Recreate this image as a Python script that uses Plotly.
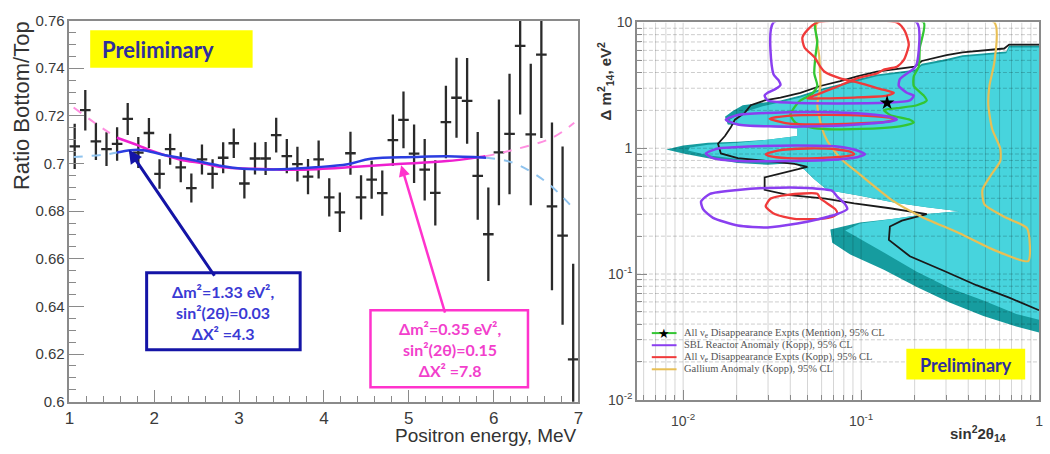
import math
import plotly.graph_objects as go

W, H = 1050, 454

# ---------------- left panel data ----------------
energy_mev = [1.0625, 1.1875, 1.3125, 1.4375, 1.5625, 1.6875, 1.8125, 1.9375,
              2.0625, 2.1875, 2.3125, 2.4375, 2.5625, 2.6875, 2.8125, 2.9375,
              3.0625, 3.1875, 3.3125, 3.4375, 3.5625, 3.6875, 3.8125, 3.9375,
              4.0625, 4.1875, 4.3125, 4.4375, 4.5625, 4.6875, 4.8125, 4.9375,
              5.0625, 5.1875, 5.3125, 5.4375, 5.5625, 5.6875, 5.8125, 5.9375,
              6.0625, 6.1875, 6.3125, 6.4375, 6.5625, 6.6875, 6.8125, 6.9375]
ratio = [0.7072, 0.7224, 0.7093, 0.7060, 0.7082, 0.7187, 0.7046, 0.7128,
         0.6956, 0.7060, 0.6984, 0.6897, 0.7017, 0.6956, 0.7024, 0.7085,
         0.6916, 0.7021, 0.7021, 0.7119, 0.7031, 0.6997, 0.6945, 0.7017,
         0.6858, 0.6795, 0.7043, 0.6858, 0.6932, 0.6876, 0.7098, 0.7183,
         0.7041, 0.6974, 0.6877, 0.7174, 0.7276, 0.7263, 0.6948, 0.6703,
         0.7047, 0.7124, 0.7494, 0.7122, 0.7457, 0.6820, 0.6697, 0.6178]
ratio_err = [0.0095, 0.0085, 0.0078, 0.0071, 0.0070, 0.0067, 0.0065, 0.0063,
             0.0062, 0.0065, 0.0063, 0.0061, 0.0063, 0.0062, 0.0065, 0.0062,
             0.0063, 0.0067, 0.0069, 0.0073, 0.0072, 0.0073, 0.0074, 0.0080,
             0.0080, 0.0083, 0.0090, 0.0093, 0.0080, 0.0095, 0.0108, 0.0119,
             0.0123, 0.0129, 0.0137, 0.0152, 0.0168, 0.0180, 0.0184, 0.0196,
             0.0222, 0.0253, 0.0288, 0.0297, 0.0350, 0.0352, 0.0374, 0.0401]
bin_half_width = [0.0625] * len(energy_mev)

# fit curves
pink_lo_E = [1.05, 1.30, 1.56]
pink_lo_V = [0.7235, 0.7170, 0.7108]
magenta_E = [1.56, 1.81, 1.95, 2.30, 2.58, 2.81, 3.16, 3.50, 3.74, 4.28, 4.83, 5.45, 5.84, 5.90]
magenta_V = [0.7108, 0.7076, 0.7056, 0.7017, 0.7000, 0.6984, 0.6978, 0.6974, 0.6974, 0.6984, 0.6997, 0.7010, 0.7027, 0.7030]
pink_hi_E = [5.90, 6.22, 6.69, 6.95]
pink_hi_V = [0.7030, 0.7056, 0.7108, 0.7171]

lblue_lo_E = [1.05, 1.41, 1.56]
lblue_lo_V = [0.7027, 0.7037, 0.7046]
blue_E = [1.56, 1.72, 1.87, 2.10, 2.42, 2.77, 3.04, 3.50, 3.90, 4.28, 4.55, 5.06, 5.45, 5.91]
blue_V = [0.7046, 0.7056, 0.7056, 0.7037, 0.7017, 0.6991, 0.6978, 0.6976, 0.6984, 0.6997, 0.7020, 0.7027, 0.7030, 0.7024]
lblue_hi_E = [5.91, 6.22, 6.61, 6.95]
lblue_hi_V = [0.7024, 0.7004, 0.6925, 0.6808]

y_ticks = [0.60, 0.62, 0.64, 0.66, 0.68, 0.70, 0.72, 0.74, 0.76]
y_tick_text = ["0.6", "0.62", "0.64", "0.66", "0.68", "0.7", "0.72", "0.74", "0.76"]
x_ticks = [1, 2, 3, 4, 5, 6, 7]

# ---------------- right panel data: (log10 sin^2 2theta, log10 dm^2) ----------------
teal_region = [(0.0, 0.816), (-0.168, 0.816), (-0.184, 0.770), (-0.430, 0.740), (-0.520, 0.709),
               (-0.659, 0.671), (-0.698, 0.625), (-0.911, 0.587), (-1.022, 0.549), (-1.117, 0.510),
               (-1.229, 0.472), (-1.341, 0.419), (-1.453, 0.380), (-1.581, 0.357), (-1.665, 0.342),
               (-1.721, 0.296), (-1.765, 0.250), (-1.749, 0.189), (-1.581, 0.174), (-1.358, 0.158),
               (-1.358, 0.097), (-1.525, 0.067), (-1.693, 0.051), (-1.860, 0.044), (-2.0, 0.021),
               (-2.095, -0.010), (-2.0, -0.041), (-1.860, -0.079), (-1.693, -0.117), (-1.525, -0.132),
               (-1.369, -0.117), (-1.318, -0.171), (-1.263, -0.247), (-1.190, -0.331), (-1.006, -0.377),
               (-0.816, -0.431), (-0.631, -0.469), (-0.447, -0.500), (-0.631, -0.523), (-0.816, -0.561),
               (-1.006, -0.591), (-1.173, -0.645), (-1.162, -0.752), (-1.061, -0.844), (-0.872, -0.966),
               (-0.687, -1.104), (-0.503, -1.226), (-0.313, -1.334), (-0.128, -1.418), (0.0, -1.464)]
cyan_region = [(0.0, 0.801), (-0.168, 0.801), (-0.184, 0.755), (-0.430, 0.725), (-0.520, 0.694),
               (-0.659, 0.656), (-0.698, 0.610), (-0.911, 0.572), (-1.022, 0.533), (-1.117, 0.495),
               (-1.229, 0.457), (-1.341, 0.403), (-1.453, 0.365), (-1.553, 0.334), (-1.637, 0.296),
               (-1.693, 0.265), (-1.737, 0.227), (-1.721, 0.189), (-1.581, 0.174), (-1.358, 0.158),
               (-1.358, 0.097), (-1.525, 0.067), (-1.693, 0.044), (-1.860, 0.028), (-1.961, 0.005),
               (-1.972, -0.018), (-1.860, -0.056), (-1.693, -0.086), (-1.525, -0.109), (-1.369, -0.117),
               (-1.318, -0.171), (-1.263, -0.247), (-1.190, -0.331), (-1.006, -0.377), (-0.816, -0.431),
               (-0.631, -0.469), (-0.447, -0.500), (-0.631, -0.523), (-0.816, -0.561), (-1.006, -0.599),
               (-1.089, -0.653), (-1.011, -0.714), (-0.872, -0.829), (-0.687, -0.982), (-0.503, -1.112),
               (-0.313, -1.211), (-0.128, -1.318), (0.0, -1.364)]
black_contour = [(0.0, 0.824), (-0.168, 0.824), (-0.196, 0.793), (-0.430, 0.763), (-0.520, 0.740),
                 (-0.659, 0.694), (-0.698, 0.648), (-0.911, 0.610), (-1.022, 0.572), (-1.117, 0.533),
                 (-1.229, 0.495), (-1.341, 0.441), (-1.453, 0.403), (-1.542, 0.380), (-1.620, 0.342),
                 (-1.654, 0.281), (-1.709, 0.227), (-1.732, 0.166), (-1.765, 0.097), (-1.804, 0.036),
                 (-1.788, -0.041), (-1.693, -0.079), (-1.525, -0.102), (-1.374, -0.125), (-1.302, -0.148),
                 (-1.385, -0.178), (-1.486, -0.209), (-1.542, -0.232), (-1.542, -0.331), (-1.413, -0.370),
                 (-1.201, -0.400), (-1.039, -0.438), (-0.838, -0.477), (-0.631, -0.523), (-0.771, -0.576),
                 (-0.838, -0.622), (-0.844, -0.729), (-0.726, -0.859), (-0.536, -0.974), (-0.352, -1.089),
                 (-0.168, -1.188), (0.0, -1.288)]

purple_islands = [
    [(-1.492, 1.0), (-1.492, 0.587), (-1.464, 0.541), (-1.453, 0.503), (-1.480, 0.472), (-1.525, 0.441),
     (-1.542, 0.419), (-1.525, 0.380), (-0.726, 0.380), (-0.704, 0.419), (-0.743, 0.441), (-0.788, 0.495),
     (-0.782, 0.549), (-0.704, 0.633), (-0.687, 0.671), (-0.687, 1.0)],
    [(-1.760, 0.227), (-1.693, 0.265), (-1.525, 0.281), (-1.246, 0.288), (-0.966, 0.273), (-0.838, 0.250),
     (-0.799, 0.227), (-0.838, 0.212), (-1.022, 0.189), (-1.246, 0.174), (-1.525, 0.174), (-1.693, 0.189)],
    [(-1.872, -0.041), (-1.804, -0.002), (-1.637, 0.013), (-1.358, 0.021), (-1.134, 0.013), (-1.022, -0.018),
     (-0.978, -0.048), (-1.022, -0.071), (-1.190, -0.094), (-1.413, -0.102), (-1.693, -0.102), (-1.832, -0.079)],
    [(-1.899, -0.423), (-1.849, -0.362), (-1.693, -0.331), (-1.525, -0.316), (-1.302, -0.316), (-1.162, -0.339),
     (-1.134, -0.385), (-1.089, -0.446), (-1.078, -0.484), (-1.134, -0.523), (-1.229, -0.561), (-1.358, -0.599),
     (-1.525, -0.630), (-1.693, -0.614), (-1.832, -0.553), (-1.888, -0.484)],
]
red_islands = [
    [(-1.246, 1.0), (-1.302, 0.939), (-1.330, 0.878), (-1.318, 0.801), (-1.263, 0.725), (-1.229, 0.648),
     (-1.207, 0.610), (-1.117, 0.556), (-1.006, 0.518), (-0.894, 0.472), (-0.816, 0.441), (-0.855, 0.419),
     (-1.039, 0.403), (-1.229, 0.396), (-1.302, 0.396), (-1.263, 0.419), (-1.151, 0.480), (-1.022, 0.556),
     (-0.911, 0.594), (-0.872, 0.625), (-0.799, 0.648), (-0.760, 0.702), (-0.732, 0.824), (-0.754, 0.931),
     (-0.799, 1.0)],
    [(-1.514, 0.235), (-1.413, 0.258), (-1.190, 0.265), (-0.966, 0.258), (-0.838, 0.243), (-0.810, 0.227),
     (-0.855, 0.212), (-1.022, 0.197), (-1.246, 0.189), (-1.413, 0.197)],
    [(-1.536, -0.048), (-1.469, -0.018), (-1.302, -0.002), (-1.134, -0.010), (-1.050, -0.033), (-1.039, -0.048),
     (-1.078, -0.063), (-1.246, -0.079), (-1.413, -0.079), (-1.514, -0.063)],
    [(-1.536, -0.461), (-1.508, -0.400), (-1.413, -0.370), (-1.246, -0.362), (-1.229, -0.400), (-1.145, -0.484),
     (-1.134, -0.515), (-1.151, -0.538), (-1.229, -0.561), (-1.374, -0.561), (-1.486, -0.523)],
]
green_contour = [(-1.257, 1.0), (-1.246, 0.855), (-1.257, 0.725), (-1.263, 0.594), (-1.246, 0.495),
                 (-1.274, 0.434), (-1.341, 0.380), (-1.374, 0.327), (-1.397, 0.265), (-1.369, 0.204),
                 (-1.285, 0.166), (-1.190, 0.151), (-0.911, 0.158), (-0.782, 0.174), (-0.704, 0.204),
                 (-0.726, 0.227), (-0.838, 0.265), (-0.872, 0.304), (-0.799, 0.319), (-0.687, 0.342),
                 (-0.631, 0.380), (-0.648, 0.419), (-0.704, 0.495), (-0.704, 0.572), (-0.676, 0.648),
                 (-0.670, 0.801), (-0.648, 1.0)]
orange_contour = [(-1.246, 1.0), (-1.235, 0.725), (-1.229, 0.495), (-1.246, 0.342), (-1.218, 0.151),
                  (-1.190, 0.059), (-1.117, -0.079), (-1.006, -0.209), (-0.816, -0.423), (-0.670, -0.538),
                  (-0.447, -0.676), (-0.257, -0.806), (-0.061, -0.897), (-0.067, -0.637), (-0.184, -0.553),
                  (-0.307, -0.446), (-0.318, -0.331), (-0.268, -0.209), (-0.218, -0.102), (-0.218, -0.002),
                  (-0.263, 0.151), (-0.285, 0.342), (-0.279, 0.495), (-0.251, 0.686), (-0.251, 1.0)]
best_fit_s2t = [0.14]
best_fit_dm2 = [2.3]

grid_x_vals = [0.006, 0.007, 0.008, 0.009, 0.01, 0.02, 0.03, 0.04, 0.05, 0.06, 0.07, 0.08, 0.09,
               0.1, 0.2, 0.3, 0.4, 0.5, 0.6, 0.7, 0.8, 0.9]
grid_y_vals = [0.02, 0.03, 0.04, 0.05, 0.06, 0.07, 0.08, 0.09, 0.1, 0.2, 0.3, 0.4, 0.5, 0.6, 0.7,
               0.8, 0.9, 1, 2, 3, 4, 5, 6, 7, 8, 9]
x2_range = (0.0055, 1.0)
y2_range = (0.01, 10.0)

legend_entries = [
    ("All ν<sub>e</sub> Disappearance Expts (Mention), 95% CL", "#33c633"),
    ("SBL Reactor Anomaly (Kopp), 95% CL", "#8a3ff0"),
    ("All ν<sub>e</sub> Disappearance Expts (Kopp), 95% CL", "#f03a3a"),
    ("Gallium Anomaly (Kopp), 95% CL", "#e8bf55"),
]

# ---------------- helpers ----------------
def px(x):
    return x / W

def py(y):
    return 1 - y / H

def poly_xy(points, close=True):
    xs = [10 ** a for a, b in points]
    ys = [10 ** b for a, b in points]
    if close:
        xs.append(xs[0])
        ys.append(ys[0])
    return xs, ys

def multi_poly(islands):
    xs, ys = [], []
    for isl in islands:
        a, b = poly_xy(isl)
        xs += a + [None]
        ys += b + [None]
    return xs, ys

def note(x, y, text, font, xanchor="center", yanchor="middle", **kw):
    d = dict(xref="paper", yref="paper", x=px(x), y=py(y), text=text, showarrow=False,
             xanchor=xanchor, yanchor=yanchor, font=font)
    d.update(kw)
    return d

fig = go.Figure()

# ---------------- left panel traces ----------------
def curve(E, V, color, width, dash):
    fig.add_trace(go.Scatter(x=E, y=V, mode="lines", line=dict(color=color, width=width, dash=dash,
                                                                 shape="spline"),
                             xaxis="x", yaxis="y", hoverinfo="skip"))

fig.add_trace(go.Scatter(
    x=energy_mev, y=ratio, mode="markers",
    marker=dict(size=1, color="#2a2a2a"),
    error_y=dict(type="data", array=ratio_err, width=0, thickness=2.3, color="#2a2a2a"),
    error_x=dict(type="data", array=bin_half_width, width=0, thickness=2.3, color="#2a2a2a"),
    xaxis="x", yaxis="y", hoverinfo="skip"))

curve(pink_lo_E, pink_lo_V, "#ff8fe0", 2, "dash")
curve(pink_hi_E, pink_hi_V, "#ff8fe0", 2, "dash")
curve(lblue_lo_E, lblue_lo_V, "#8fc3ee", 2, "dash")
curve(lblue_hi_E, lblue_hi_V, "#8fc3ee", 2, "dash")
curve(magenta_E, magenta_V, "#ee1fcf", 2.5, "solid")
curve(blue_E, blue_V, "#2b3de0", 2.5, "solid")

# ---------------- right panel traces ----------------
tx, ty = poly_xy(teal_region)
fig.add_trace(go.Scatter(x=tx, y=ty, mode="lines", fill="toself", fillcolor="#169c9f",
                         line=dict(width=0, color="#169c9f"), xaxis="x2", yaxis="y2", hoverinfo="skip"))
cx, cy = poly_xy(cyan_region)
fig.add_trace(go.Scatter(x=cx, y=cy, mode="lines", fill="toself", fillcolor="#47d4dd",
                         line=dict(width=0, color="#47d4dd"), xaxis="x2", yaxis="y2", hoverinfo="skip"))

# grid drawn above the filled regions
gvx, gvy = [], []
for v in grid_x_vals:
    gvx += [v, v, None]
    gvy += [y2_range[0], y2_range[1], None]
fig.add_trace(go.Scatter(x=gvx, y=gvy, mode="lines", line=dict(color="rgba(0,0,0,0.17)", width=1),
                         xaxis="x2", yaxis="y2", hoverinfo="skip"))
ghx, ghy = [], []
for v in grid_y_vals:
    ghx += [x2_range[0], x2_range[1], None]
    ghy += [v, v, None]
fig.add_trace(go.Scatter(x=ghx, y=ghy, mode="lines",
                         line=dict(color="rgba(0,0,0,0.2)", width=1, dash="4px,2px"),
                         xaxis="x2", yaxis="y2", hoverinfo="skip"))

bx, by = poly_xy(black_contour, close=False)
fig.add_trace(go.Scatter(x=bx, y=by, mode="lines", line=dict(color="#1a1a1a", width=1.8),
                         xaxis="x2", yaxis="y2", hoverinfo="skip"))
ox, oy = poly_xy(orange_contour)
fig.add_trace(go.Scatter(x=ox, y=oy, mode="lines", line=dict(color="#e8bf55", width=2.2, shape="spline", smoothing=0.6),
                         xaxis="x2", yaxis="y2", hoverinfo="skip"))
gx, gy = poly_xy(green_contour)
fig.add_trace(go.Scatter(x=gx, y=gy, mode="lines", line=dict(color="#33c633", width=2.3, shape="spline", smoothing=0.6),
                         xaxis="x2", yaxis="y2", hoverinfo="skip"))
rx, ry = multi_poly(red_islands)
fig.add_trace(go.Scatter(x=rx, y=ry, mode="lines", line=dict(color="#f03a3a", width=2.3, shape="spline", smoothing=0.6),
                         xaxis="x2", yaxis="y2", hoverinfo="skip"))
ppx, ppy = multi_poly(purple_islands)
fig.add_trace(go.Scatter(x=ppx, y=ppy, mode="lines", line=dict(color="#8a3ff0", width=2.5, shape="spline", smoothing=0.6),
                         xaxis="x2", yaxis="y2", hoverinfo="skip"))
fig.add_trace(go.Scatter(x=best_fit_s2t, y=best_fit_dm2, mode="markers",
                         marker=dict(symbol="star", size=11, color="black"),
                         xaxis="x2", yaxis="y2", hoverinfo="skip"))

# ---------------- layout ----------------
axis_gray = "#8a8a8a"
tick_font_l = dict(family="Liberation Sans, Arial", size=15, color="#3a3a3a")
fig.update_layout(
    width=W, height=H, margin=dict(l=0, r=0, t=0, b=0),
    paper_bgcolor="white", plot_bgcolor="white", showlegend=False,
    xaxis=dict(domain=[px(65), px(579)], range=[1, 7], anchor="y", tickvals=x_ticks,
               ticks="inside", ticklen=12, tickwidth=1.3, tickcolor=axis_gray,
               minor=dict(dtick=0.2, ticks="inside", ticklen=6, tickwidth=1.2, tickcolor=axis_gray),
               showline=True, linecolor=axis_gray, linewidth=1.5, mirror=True,
               showgrid=False, zeroline=False, ticklabelstandoff=0,
               tickfont=dict(family="Liberation Sans, Arial", size=17, color="#3a3a3a")),
    yaxis=dict(domain=[py(408), py(12)], range=[0.6, 0.76], anchor="x", tickvals=y_ticks,
               ticktext=y_tick_text, ticks="inside", ticklen=15, tickwidth=1.3, tickcolor=axis_gray,
               minor=dict(dtick=0.005, ticks="inside", ticklen=7, tickwidth=1.2, tickcolor=axis_gray),
               showline=True, linecolor=axis_gray, linewidth=1.5, mirror=True,
               showgrid=False, zeroline=False, tickfont=tick_font_l),
    xaxis2=dict(type="log", domain=[px(638), px(1044)],
                range=[math.log10(x2_range[0]), math.log10(x2_range[1])], anchor="y2",
                tickvals=[0.01, 0.1, 1], ticktext=["10<sup>-2</sup>", "10<sup>-1</sup>", "1"],
                ticks="inside", ticklen=10, tickcolor=axis_gray,
                minor=dict(tickvals=grid_x_vals, ticks="inside", ticklen=5, tickcolor=axis_gray),
                showline=True, linecolor=axis_gray, linewidth=1.5, mirror=True,
                showgrid=False, zeroline=False, ticklabelstandoff=8,
                tickfont=dict(family="Liberation Sans, Arial", size=14, color="#444")),
    yaxis2=dict(type="log", domain=[py(406), py(14)],
                range=[math.log10(y2_range[0]), math.log10(y2_range[1])], anchor="x2",
                tickvals=[0.01, 0.1, 1, 10], ticktext=["10<sup>-2</sup>", "10<sup>-1</sup>", "1", "10"],
                ticks="inside", ticklen=10, tickcolor=axis_gray,
                minor=dict(tickvals=grid_y_vals, ticks="inside", ticklen=5, tickcolor=axis_gray),
                showline=True, linecolor=axis_gray, linewidth=1.5, mirror=True,
                showgrid=False, zeroline=False,
                tickfont=dict(family="Liberation Sans, Arial", size=14, color="#444")),
)

shapes = []
annotations = []

# yellow "Preliminary" boxes
shapes.append(dict(type="rect", xref="paper", yref="paper", x0=px(86), x1=px(250), y0=py(61), y1=py(22),
                   fillcolor="#ffff00", line=dict(width=0), layer="above"))
annotations.append(note(154, 42, "<b>Preliminary</b>", dict(family="Lato", size=22, color="#2e2e9e")))
shapes.append(dict(type="rect", xref="paper", yref="paper", x0=px(910), x1=px(1030), y0=py(385), y1=py(353),
                   fillcolor="#ffff00", line=dict(width=0), layer="above"))
annotations.append(note(970, 370, "<b>Preliminary</b>", dict(family="Lato", size=18, color="#2e2e9e")))

# fit-parameter boxes with arrows
shapes.append(dict(type="rect", xref="paper", yref="paper", x0=px(143), x1=px(298), y0=py(354), y1=py(274),
                   fillcolor="white", line=dict(color="#1414a6", width=3), layer="above"))
annotations.append(note(220.5, 315, "<b>Δm²=1.33 eV²,<br>sin²(2θ)=0.03<br>ΔX² =4.3</b>",
                        dict(family="Lato", size=16, color="#3a3ad4")))
annotations.append(dict(xref="x", yref="y", x=1.70, y=0.7058, ax=86.7, ay=127.6, text="",
                        showarrow=True, arrowhead=2, arrowsize=0.9, arrowwidth=3, arrowcolor="#1414a6"))
shapes.append(dict(type="rect", xref="paper", yref="paper", x0=px(369), x1=px(528), y0=py(393), y1=py(313),
                   fillcolor="white", line=dict(color="#ff33cc", width=2.5), layer="above"))
annotations.append(note(448.8, 353.3, "<b>Δm²=0.35 eV²,<br>sin²(2θ)=0.15<br>ΔX² =7.8</b>",
                        dict(family="Lato", size=16, color="#f23fcc")))
annotations.append(dict(xref="x", yref="y", x=4.91, y=0.6993, ax=44.3, ay=149, text="",
                        showarrow=True, arrowhead=2, arrowsize=0.9, arrowwidth=2.5, arrowcolor="#ff33cc"))

# axis titles
annotations.append(note(16, 100, "Ratio Bottom/Top",
                        dict(family="Liberation Sans, Arial", size=22, color="#333"), textangle=-90))
annotations.append(note(580, 443, "Positron energy, MeV",
                        dict(family="Liberation Sans, Arial", size=19, color="#333"), xanchor="right"))
annotations.append(note(606, 75, "<b>Δ m<sup>2</sup><sub>14</sub>, eV<sup>2</sup></b>",
                        dict(family="Liberation Sans, Arial", size=15, color="#333"), textangle=-90))
annotations.append(note(982, 441, "<b>sin<sup>2</sup>2θ<sub>14</sub></b>",
                        dict(family="Liberation Sans, Arial", size=15, color="#333")))

# legend (drawn manually to match compact row spacing)
leg_rows = [336.7, 349.3, 361.7, 374.3]
for (label, col), yy in zip(legend_entries, leg_rows):
    shapes.append(dict(type="line", xref="paper", yref="paper", x0=px(653), x1=px(678), y0=py(yy), y1=py(yy),
                       line=dict(color=col, width=2), layer="above"))
    annotations.append(note(684, yy, label,
                            dict(family="Liberation Serif, Times New Roman", size=10.5, color="#555"),
                            xanchor="left"))
annotations.append(note(665.5, leg_rows[0], "★", dict(family="DejaVu Sans", size=13, color="black")))

fig.update_layout(shapes=shapes, annotations=annotations)
fig.write_html("out.html")
